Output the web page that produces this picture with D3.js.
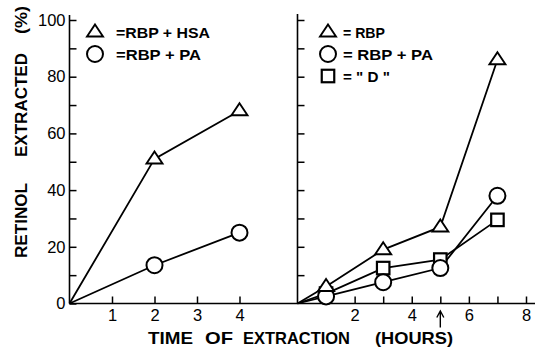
<!DOCTYPE html>
<html>
<head>
<meta charset="utf-8">
<script src="https://cdn.jsdelivr.net/npm/d3@7"></script>
<style>
  html, body { margin: 0; padding: 0; background: #fff; }
  svg { display: block; }
  text { font-family: "Liberation Sans", Arial, Helvetica, sans-serif; fill: #000; }
</style>
</head>
<body>
<svg id="chart" width="535" height="348"></svg>
<script>
// ---- data ----------------------------------------------------------
// left panel: retinol extracted (%) vs time (hours)
const leftHours      = [0, 2, 4];
const rbpHsa         = [0, 51, 68];
const rbpPaLeft      = [0, 13.5, 25];

// right panel
const rightHours     = [0, 1, 3, 5, 7];
const rbp            = [0, 6, 19, 27, 86];
const rbpPaRight     = [0, 2.5, 7.5, 12.5, 38];
const dSeries        = [0, 3.5, 12.5, 15.5, 29.5];

const yTicks         = [0, 10, 20, 30, 40, 50, 60, 70, 80, 90, 100];
const yTickLabels    = [0, 20, 40, 60, 80, 100];
const leftXTicks     = [1, 2, 3, 4];
const rightXTicks    = [1, 2, 3, 4, 5, 6, 7, 8];
const rightXLabels   = [2, 4, 6, 8];
const arrowHour      = 5;

const leftLegend  = [
  { shape: "triangle", label: "=RBP + HSA", len: 94 },
  { shape: "circle",   label: "=RBP + PA",  len: 85 }
];
const rightLegend = [
  { shape: "triangle", label: "= RBP",      len: 42 },
  { shape: "circle",   label: "= RBP + PA", len: 90 },
  { shape: "square",   label: "= \" D \"",  len: 47 }
];

// ---- layout ----------------------------------------------------------
const svg = d3.select("#chart");
const y  = d3.scaleLinear().domain([0, 100]).range([303.5, 20]);
const xL = d3.scaleLinear().domain([0, 4]).range([69.5, 239.5]);
const xR = d3.scaleLinear().domain([0, 8]).range([297.5, 526]);

const ink = "#000";
const intFmt = d3.format("d");

// axis frame lines
const frame = svg.append("g").attr("stroke", ink).attr("stroke-width", 1.6).attr("fill", "none");
frame.append("line").attr("x1", xL(0)).attr("x2", 535).attr("y1", y(0)).attr("y2", y(0));
frame.append("line").attr("x1", xL(0)).attr("x2", xL(0)).attr("y1", y(0)).attr("y2", y(100) - 5);
frame.append("line").attr("x1", xR(0)).attr("x2", xR(0)).attr("y1", y(0)).attr("y2", y(100) - 6);

function styleAxis(g) {
  g.select(".domain").remove();
  g.selectAll(".tick line").attr("stroke", ink).attr("stroke-width", 1.5);
  g.selectAll(".tick text").attr("font-size", 16.5).attr("font-family", "Liberation Sans, Arial, sans-serif").attr("fill", ink);
}

// left y axis: ticks every 10, labels every 20
svg.append("g")
  .attr("transform", `translate(${xL(0)},0)`)
  .call(d3.axisLeft(y).tickValues(yTicks).tickSize(-7).tickPadding(4)
    .tickFormat(d => yTickLabels.includes(d) ? intFmt(d) : ""))
  .call(styleAxis);

// right y axis: ticks only
svg.append("g")
  .attr("transform", `translate(${xR(0)},0)`)
  .call(d3.axisLeft(y).tickValues(yTicks.filter(d => d > 0)).tickSize(-7).tickFormat(""))
  .call(styleAxis);

// left x axis
svg.append("g")
  .attr("transform", `translate(0,${y(0)})`)
  .call(d3.axisBottom(xL).tickValues(leftXTicks).tickSize(-7).tickPadding(6).tickFormat(intFmt))
  .call(styleAxis);

// right x axis
svg.append("g")
  .attr("transform", `translate(0,${y(0)})`)
  .call(d3.axisBottom(xR).tickValues(rightXTicks).tickSize(-7).tickPadding(6)
    .tickFormat(d => rightXLabels.includes(d) ? intFmt(d) : ""))
  .call(styleAxis);

// arrow under the 5 h tick
const ax = xR(arrowHour);
svg.append("path")
  .attr("d", `M${ax},${y(0) + 24} L${ax},${y(0) + 8} M${ax - 3.5},${y(0) + 14} L${ax},${y(0) + 7.5} L${ax + 3.5},${y(0) + 14}`)
  .attr("stroke", ink).attr("stroke-width", 1.4).attr("fill", "none");

// ---- markers ----------------------------------------------------------
function marker(g, shape, cx, cy) {
  if (shape === "triangle") {
    const w = 16, h = 12;
    g.append("path")
      .attr("d", `M${cx},${cy - h * 0.62} L${cx + w / 2},${cy + h * 0.38} L${cx - w / 2},${cy + h * 0.38} Z`)
      .attr("fill", "#fff").attr("stroke", ink).attr("stroke-width", 1.9).attr("stroke-linejoin", "miter");
  } else if (shape === "circle") {
    g.append("circle").attr("cx", cx).attr("cy", cy).attr("r", 8)
      .attr("fill", "#fff").attr("stroke", ink).attr("stroke-width", 2);
  } else {
    const s = 12.5;
    g.append("rect").attr("x", cx - s / 2).attr("y", cy - s / 2).attr("width", s).attr("height", s)
      .attr("fill", "#fff").attr("stroke", ink).attr("stroke-width", 2.2);
  }
}

function series(xs, ys, xScale) {
  const pts = xs.map((h, i) => [xScale(h), y(ys[i])]);
  svg.append("path")
    .attr("d", d3.line()(pts))
    .attr("fill", "none").attr("stroke", ink).attr("stroke-width", 1.8);
  return pts;
}

// lines first, markers on top
const markerSets = [];
markerSets.push(["triangle", series(leftHours, rbpHsa, xL)]);
markerSets.push(["circle",   series(leftHours, rbpPaLeft, xL)]);
markerSets.push(["square",   series(rightHours, dSeries, xR)]);
markerSets.push(["circle",   series(rightHours, rbpPaRight, xR)]);
markerSets.push(["triangle", series(rightHours, rbp, xR)]);

const mg = svg.append("g");
markerSets.forEach(([shape, pts]) => {
  pts.slice(1).forEach(([px, py]) => marker(mg, shape, px, py));
});

// ---- legends ----------------------------------------------------------
function legend(items, sx, tx, top, step) {
  const g = svg.append("g");
  items.forEach((it, i) => {
    const cy = top + i * step;
    marker(g, it.shape, sx, cy);
    g.append("text").attr("x", tx).attr("y", cy + 5.5)
      .attr("font-size", 15.5).attr("font-weight", "bold")
      .attr("textLength", it.len).attr("lengthAdjust", "spacingAndGlyphs")
      .text(it.label);
  });
}
legend(leftLegend, 95, 116, 32, 22);
legend(rightLegend, 328, 343, 32, 22);

// ---- axis titles ----------------------------------------------------------
const titleWords = [
  { t: "TIME", x: 148, len: 45 },
  { t: "OF", x: 205, len: 28 },
  { t: "EXTRACTION", x: 243, len: 107 },
  { t: "(HOURS)", x: 375, len: 78 }
];
titleWords.forEach(w => {
  svg.append("text").attr("x", w.x).attr("y", 343.5)
    .attr("font-size", 16.5).attr("font-weight", "bold")
    .attr("textLength", w.len).attr("lengthAdjust", "spacingAndGlyphs")
    .text(w.t);
});

const yTitleWords = [
  { t: "RETINOL", start: 258, len: 75 },
  { t: "EXTRACTED", start: 157, len: 104 },
  { t: "(%)", start: 34, len: 28 }
];
const yt = svg.append("g").attr("transform", "translate(27,0) rotate(-90)");
yTitleWords.forEach(w => {
  yt.append("text").attr("x", -w.start).attr("y", 0)
    .attr("font-size", 17).attr("font-weight", "bold")
    .attr("textLength", w.len).attr("lengthAdjust", "spacingAndGlyphs")
    .text(w.t);
});
</script>
</body>
</html>
